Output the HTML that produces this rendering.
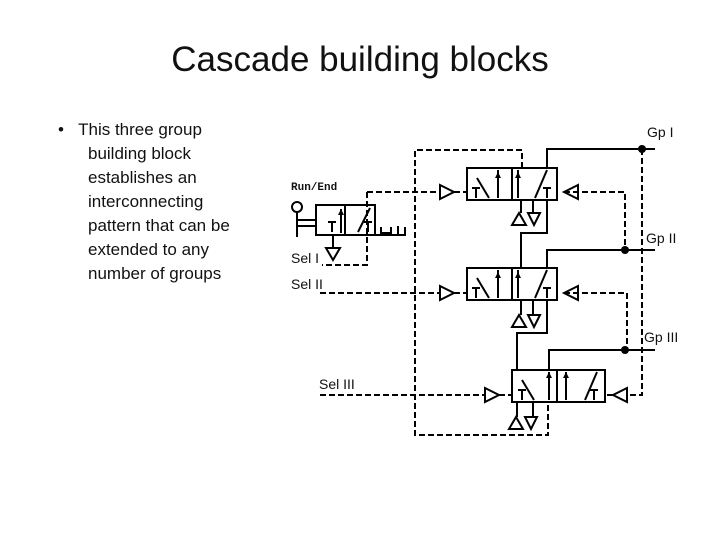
<!DOCTYPE html><html><head><style>body{margin:0;width:720px;height:540px;background:#fff;font-family:"Liberation Sans",sans-serif;position:relative;overflow:hidden}
.t{position:absolute;left:0;width:720px;top:40px;text-align:center;font-size:35px;color:#111}
.b{position:absolute;left:58px;top:118px;font-size:17px;line-height:24px;color:#111}
</style></head><body>
<div class="t">Cascade building blocks</div>
<div class="b">•&nbsp;&nbsp;&nbsp;This three group<br><span style="padding-left:30px">building block</span><br><span style="padding-left:30px">establishes an</span><br><span style="padding-left:30px">interconnecting</span><br><span style="padding-left:30px">pattern that can be</span><br><span style="padding-left:30px">extended to any</span><br><span style="padding-left:30px">number of groups</span></div>
<svg width="720" height="540" style="position:absolute;left:0;top:0" font-family="Liberation Sans,sans-serif">
<g fill="none" stroke="#000" stroke-width="2">
<rect x="467" y="168" width="90" height="32"/><line x1="512" y1="168" x2="512" y2="200"/>
<rect x="467" y="268" width="90" height="32"/><line x1="512" y1="268" x2="512" y2="300"/>
<rect x="512" y="370" width="93" height="32"/><line x1="557" y1="370" x2="557" y2="402"/>
<rect x="316" y="205" width="59" height="30"/><line x1="345" y1="205" x2="345" y2="235"/>
<path d="M375 235H405V227M381 227v6h10v-6M398 226v8"/>
<circle cx="297" cy="207" r="5"/><path d="M297 212V237M297 220H316M297 226H316"/>
<!-- solid lines -->
<path d="M547 168V149H655M547 200V233H521V268M547 268V250H655M547 300V333H517V370M549 370V350H655"/>
<path d="M521 200V213M533 200V213M521 300V315M533 300V315"/>
<!-- internal symbols -->
<path d="M477 178l12 20M498 170v28M518 170v28M547 170l-12 28M472 188h8M476 188v10M543 188h8M547 188v10"/>
<path d="M477 278l12 20M498 270v28M518 270v28M547 270l-12 28M472 288h8M476 288v10M543 288h8M547 288v10"/>
<path d="M522 380l12 20M549 372v28M566 372v28M597 372l-12 28M518 390h8M522 390v10M590 390h8M594 390v10"/>
<path d="M328 222h8M332 222v10M341 209v24M370 208l-12 24M364 222h8M368 222v10"/>
<path d="M333 235V248M517 402V417M533 402V417"/>
<!-- exhaust triangles -->
<path d="M512 225l7-12l7 12zM528 213h12l-6 12zM512 327l7-12l7 12zM528 315h12l-6 12zM509 429l7-12l7 12zM525 417h12l-6 12zM326 248h14l-7 12z"/>
<!-- pilot triangles -->
<path d="M440 185l14 7l-14 7zM440 286l14 7l-14 7zM485 388l14 7l-14 7zM578 185l-14 7l14 7zM578 286l-14 7l14 7zM627 388l-14 7l14 7z"/>
</g>
<g fill="#000"><circle cx="642" cy="149" r="4"/><circle cx="625" cy="250" r="4"/><circle cx="625" cy="350" r="4"/>
<path d="M498 172l-3 6h6zM518 172l-3 6h6zM341 209l-3 6h6zM498 272l-3 6h6zM518 272l-3 6h6zM549 372l-3 6h6zM566 372l-3 6h6z"/></g>
<g fill="none" stroke="#000" stroke-width="2" stroke-dasharray="6,3">
<path d="M522 168V150H415V435H548V402"/>
<path d="M367 192H440M454 192H467M367 192V265H322"/>
<path d="M320 293H440M454 293H467"/>
<path d="M320 395H485M499 395H512"/>
<path d="M564 192H625V250M564 293H627V350"/>
<path d="M642 149V395H627M613 395H605"/>
</g>
<g font-size="14" fill="#111">
<text x="647" y="137">Gp I</text><text x="646" y="243">Gp II</text><text x="644" y="342">Gp III</text>
<text x="291" y="263">Sel I</text><text x="291" y="289">Sel II</text><text x="319" y="389">Sel III</text>
<text x="291" y="190" font-size="11" font-weight="bold" font-family="Liberation Mono,monospace">Run/End</text>
</g>
</svg>
</body></html>
